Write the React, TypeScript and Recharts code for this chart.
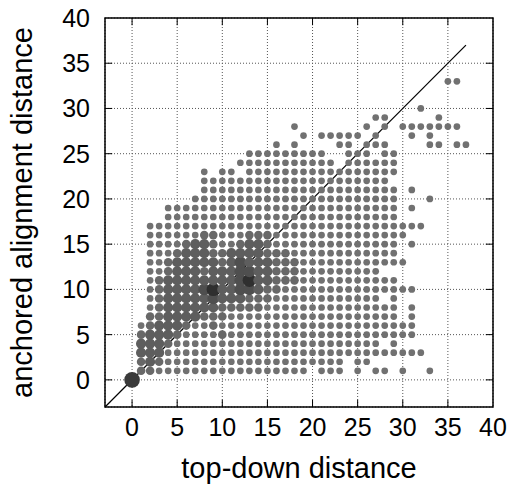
import { ScatterChart, Scatter, XAxis, YAxis, CartesianGrid, ReferenceLine, ReferenceArea } from 'recharts';

const xTicks = [0, 5, 10, 15, 20, 25, 30, 35, 40];
const yTicks = [0, 5, 10, 15, 20, 25, 30, 35, 40];
const axisMin = -3;
const axisMax = 40;
const diagonalEnd = 37;

// top-down distance values that occur, one string per anchored alignment distance (index = y)
const rowX = [
  "0",
  "1-19,21-23,25,27,28,30,33",
  "1-23,25,26",
  "1-32",
  "1-27,29",
  "1-31",
  "1-31",
  "2-29,31",
  "2-29,31",
  "2-27,29",
  "2-31",
  "2-29",
  "2-27",
  "2-30",
  "2-29",
  "2-29,31",
  "2-30",
  "2-32",
  "4-29",
  "4-29,31",
  "7-29,33",
  "8-29,31",
  "8-28",
  "8,10,11,13-29",
  "12-22,24-29",
  "13-21,24-26,28,29",
  "16,18,23,24,26-28,33,34,36,37",
  "19,21-25,27,31,33",
  "18,26,28,30-36",
  "27,28,34",
  "32",
  "",
  "",
  "35,36",
];

// cells with more hits, "x:level" (index = y), level 0 everywhere else
const rowHeavy = [
  "0:5",
  "1:1,2:1",
  "1:1,2:2,3:1",
  "1:2,2:2,3:2",
  "1:2,2:2,3:2,4:1",
  "1:1,2:2,3:2,4:2,5:1,10:1",
  "2:1,3:2,4:2,5:2,6:1,9:1",
  "2:1,3:1,4:2,5:2,6:2,7:2,8:1,9:1,10:1",
  "3:1,4:2,5:2,6:2,7:2,8:2,9:2,10:1,11:1,12:1,13:1,14:1",
  "3:1,4:2,5:2,6:2,7:2,8:2,9:3,10:2,11:2,12:2,13:1,14:1,15:1",
  "3:1,4:2,5:2,6:2,7:2,8:3,9:4,10:2,11:2,12:3,13:3,14:2,15:1,16:1",
  "3:1,4:2,5:2,6:2,7:2,8:2,9:2,10:2,11:2,12:3,13:4,14:2,15:2,16:1,17:1,18:1",
  "4:1,5:2,6:2,7:2,8:1,9:2,10:2,11:2,12:3,13:3,14:2,15:2,16:1,17:1,18:1",
  "4:1,5:2,6:2,7:2,8:2,9:2,10:1,11:2,12:3,13:2,14:2,15:2,16:1,17:1,18:1",
  "5:1,6:2,7:2,8:2,9:1,10:1,11:2,12:2,13:2,14:2,15:1,16:1,17:1",
  "6:1,7:2,8:2,9:1,12:1,13:2,14:2,15:1",
  "8:1,9:1,13:1,14:1,15:1",
];

const levelRadius = [3.35, 4.3, 5.1, 5.9, 6.7, 7.8];
const levelFill = ['#717171', '#686868', '#5e5e5e', '#4f4f4f', '#2f2f2f', '#3a3a3a'];

const expand = (s: string) =>
  s
    ? s.split(',').flatMap((part) => {
        const [a, b] = part.split('-').map(Number);
        return b === undefined ? [a] : Array.from({ length: b - a + 1 }, (_, i) => a + i);
      })
    : [];

const heavy = new Map<string, number>();
rowHeavy.forEach((s, y) =>
  s.split(',').forEach((pair) => {
    const [x, w] = pair.split(':').map(Number);
    heavy.set(`${x},${y}`, w);
  })
);

const points = rowX.flatMap((s, y) =>
  expand(s).map((x) => ({ x, y, w: heavy.get(`${x},${y}`) ?? 0 }))
);

const tickLen = 0.8;
const font = '"Liberation Sans", Arial, Helvetica, sans-serif';

const Dot = (props: any) => {
  const { cx, cy, payload } = props;
  return <circle cx={cx} cy={cy} r={levelRadius[payload.w]} fill={levelFill[payload.w]} />;
};

export default function App() {
  const inner = xTicks.filter((t) => t < axisMax);
  return (
    <div style={{ position: 'absolute', left: 0, top: 0, background: '#fff' }}>
      <ScatterChart width={513} height={487} margin={{ top: 18, right: 20, bottom: 0, left: 0 }}>
        <CartesianGrid stroke="#555" strokeDasharray="1 2" />
        <XAxis
          dataKey="x"
          type="number"
          domain={[axisMin, axisMax]}
          ticks={xTicks}
          allowDataOverflow
          axisLine={false}
          tickLine={false}
          tickSize={0}
          tickMargin={11}
          height={80}
          tick={{ fill: '#000', fontSize: 25, fontFamily: font }}
          label={{ value: 'top-down distance', position: 'insideBottom', offset: 9, fill: '#000', fontSize: 29, fontFamily: font }}
        />
        <YAxis
          dataKey="y"
          type="number"
          domain={[axisMin, axisMax]}
          ticks={yTicks}
          allowDataOverflow
          axisLine={false}
          tickLine={false}
          tickSize={0}
          tickMargin={15}
          width={105}
          tick={{ fill: '#000', fontSize: 25, fontFamily: font }}
          label={{ value: 'anchored alignment distance', angle: -90, position: 'insideLeft', offset: 22, fill: '#000', fontSize: 29, fontFamily: font, style: { textAnchor: 'middle' } }}
        />
        <Scatter data={points} shape={<Dot />} isAnimationActive={false} />
        <ReferenceLine
          segment={[{ x: axisMin, y: axisMin }, { x: diagonalEnd, y: diagonalEnd }]}
          stroke="#000"
          strokeWidth={1.2}
        />
        {inner.map((t) => (
          <ReferenceLine key={`b${t}`} segment={[{ x: t, y: axisMin }, { x: t, y: axisMin + tickLen }]} stroke="#000" strokeWidth={1} />
        ))}
        {inner.map((t) => (
          <ReferenceLine key={`t${t}`} segment={[{ x: t, y: axisMax }, { x: t, y: axisMax - tickLen }]} stroke="#000" strokeWidth={1} />
        ))}
        {yTicks.filter((t) => t < axisMax).map((t) => (
          <ReferenceLine key={`l${t}`} segment={[{ x: axisMin, y: t }, { x: axisMin + tickLen, y: t }]} stroke="#000" strokeWidth={1} />
        ))}
        {yTicks.filter((t) => t < axisMax).map((t) => (
          <ReferenceLine key={`r${t}`} segment={[{ x: axisMax, y: t }, { x: axisMax - tickLen, y: t }]} stroke="#000" strokeWidth={1} />
        ))}
        <ReferenceArea x1={axisMin} x2={axisMax} y1={axisMin} y2={axisMax} fill="none" stroke="#000" strokeWidth={1.5} />
      </ScatterChart>
    </div>
  );
}
